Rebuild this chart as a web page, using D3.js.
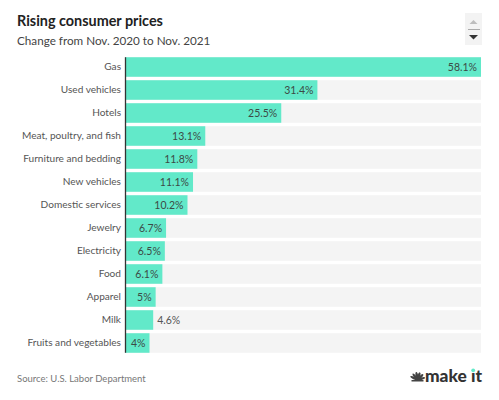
<!DOCTYPE html>
<html>
<head>
<meta charset="utf-8">
<script src="https://cdn.jsdelivr.net/npm/d3@7"></script>
<style>
  html, body { margin: 0; padding: 0; background: #fff; }
  svg { display: block; font-family: Lato, "Open Sans", sans-serif; }
</style>
</head>
<body>
<svg id="chart" width="499" height="400"></svg>
<script>
const categories = ["Gas", "Used vehicles", "Hotels", "Meat, poultry, and fish", "Furniture and bedding",
  "New vehicles", "Domestic services", "Jewelry", "Electricity", "Food", "Apparel", "Milk", "Fruits and vegetables"];
const values = [58.1, 31.4, 25.5, 13.1, 11.8, 11.1, 10.2, 6.7, 6.5, 6.1, 5, 4.6, 4];
const valueLabels = ["58.1%", "31.4%", "25.5%", "13.1%", "11.8%", "11.1%", "10.2%", "6.7%", "6.5%", "6.1%", "5%", "4.6%", "4%"];

const svg = d3.select("#chart");
const left = 125, right = 481;
const x = d3.scaleLinear().domain([0, d3.max(values)]).range([left, right]);
const y = d3.scaleBand().domain(categories).range([55.5, 354.5]).paddingInner(0.15).paddingOuter(0.075);

// Title
svg.append("text").attr("x", 17).attr("y", 26).attr("font-size", 14.4).attr("font-weight", 700)
  .attr("fill", "#222").text("Rising consumer prices");
svg.append("text").attr("x", 17).attr("y", 45).attr("font-size", 11.7).attr("fill", "#444")
  .text("Change from Nov. 2020 to Nov. 2021");

// scroll widget
const w = svg.append("g");
w.append("rect").attr("x", 465).attr("y", 13).attr("width", 17).attr("height", 32).attr("fill", "#f3f3f3");
w.append("path").attr("d", "M469.5,24 L473.5,20 L477.5,24 Z").attr("fill", "#bdbdbd");
w.append("line").attr("x1", 468).attr("x2", 480).attr("y1", 29.5).attr("y2", 29.5).attr("stroke", "#aaa").attr("stroke-width", 1);
w.append("path").attr("d", "M469,35 L478,35 L473.5,39.5 Z").attr("fill", "#333");

const data = categories.map((c, i) => ({c, v: values[i], l: valueLabels[i]}));

// background bars
svg.append("g").selectAll("rect").data(data).join("rect")
  .attr("x", left).attr("y", d => y(d.c)).attr("width", right - left).attr("height", y.bandwidth())
  .attr("fill", "#f4f4f4");

// bars
svg.append("g").selectAll("rect").data(data).join("rect")
  .attr("x", left).attr("y", d => y(d.c)).attr("width", d => x(d.v) - left).attr("height", y.bandwidth())
  .attr("fill", "#62e9c9");

// category labels via axis
const axis = svg.append("g").attr("transform", `translate(${left},0)`)
  .call(d3.axisLeft(y).tickSize(0).tickPadding(4));
axis.select(".domain").remove();
axis.selectAll("text").attr("font-size", 10.1).attr("fill", "#555").attr("font-family", "Lato, 'Open Sans', sans-serif");

// axis line
svg.append("line").attr("x1", left + 0.5).attr("x2", left + 0.5)
  .attr("y1", y(categories[0])).attr("y2", y(categories[categories.length - 1]) + y.bandwidth())
  .attr("stroke", "#333").attr("stroke-width", 1.3);

// value labels
svg.append("g").selectAll("text").data(data).join("text")
  .attr("y", d => y(d.c) + y.bandwidth() / 2).attr("dy", "0.35em")
  .attr("font-size", 10.5).attr("fill", "#3c4a46")
  .text(d => d.l)
  .each(function(d) {
    const tw = this.getComputedTextLength();
    const bw = x(d.v) - left;
    const sel = d3.select(this);
    if (tw + 8 < bw) {
      sel.attr("x", x(d.v) - 4).attr("text-anchor", "end");
    } else {
      sel.attr("x", x(d.v) + 4).attr("text-anchor", "start").attr("fill", "#555");
    }
  });

// source
svg.append("text").attr("x", 17).attr("y", 382).attr("font-size", 9.5).attr("fill", "#777")
  .text("Source: U.S. Labor Department");

// logo
const logo = svg.append("g");
const cx = 417.5, cy = 378;
const feathers = [-70, -40, -10, 20, 50, 80];
feathers.forEach(a => {
  logo.append("ellipse")
    .attr("cx", cx).attr("cy", cy)
    .attr("rx", 1.3).attr("ry", 4)
    .attr("transform", `rotate(${a * 0.9},${cx},${cy + 2}) translate(0,-2)`)
    .attr("fill", "#444");
});
logo.append("rect").attr("x", cx - 6).attr("y", cy + 2).attr("width", 12).attr("height", 1.5).attr("fill", "#444");
const mk = logo.append("text").attr("x", 425).attr("y", 382).attr("font-size", 16).attr("font-weight", 900)
  .attr("fill", "#333").attr("textLength", 57).attr("lengthAdjust", "spacingAndGlyphs").text("make ıt");
const node = mk.node();
const ext = node.getExtentOfChar(5);
logo.append("circle").attr("cx", ext.x + ext.width / 2).attr("cy", 370.3).attr("r", 1.9).attr("fill", "#62e9c9");
</script>
</body>
</html>
